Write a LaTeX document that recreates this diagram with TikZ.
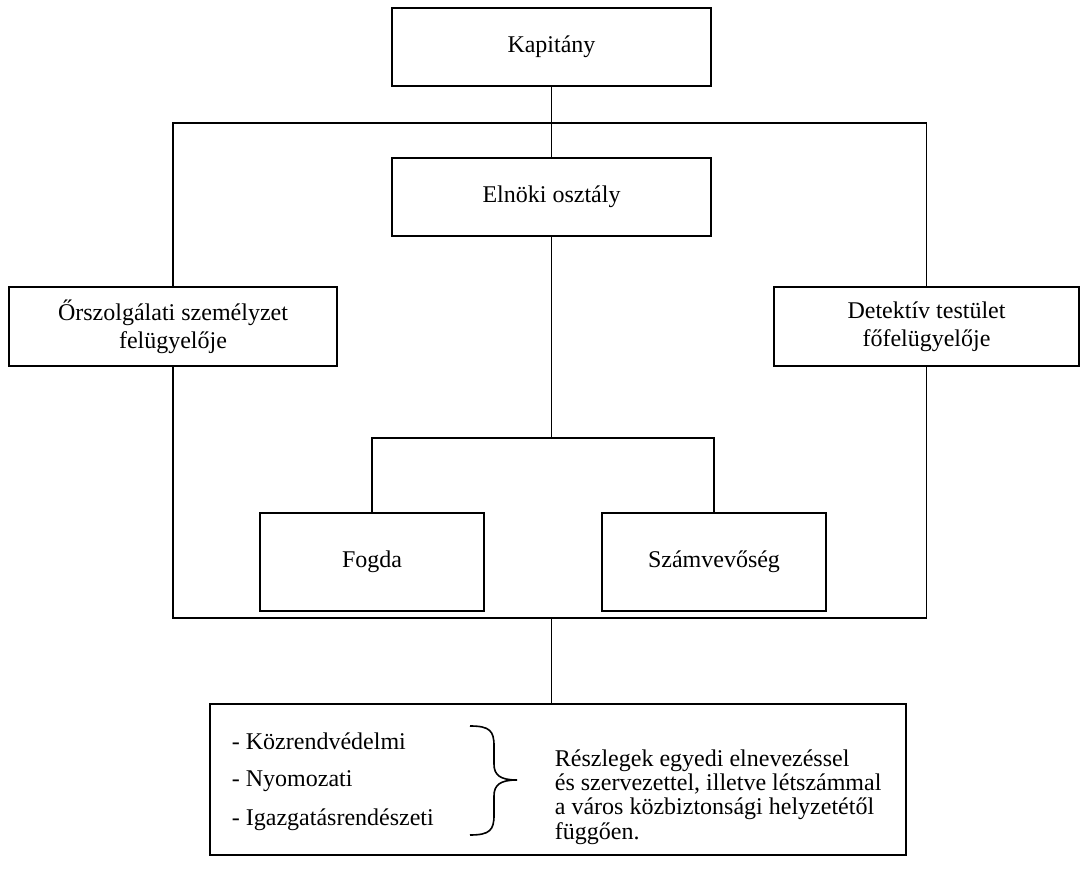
\documentclass[tikz,border=0pt]{standalone}
\usepackage{fontspec}
\setmainfont{Liberation Serif}
\begin{document}
\begin{tikzpicture}[x=0.5pt,y=-0.5pt,line width=0.9pt,
	font=\fontsize{12}{14}\selectfont,
	box/.style={draw,align=center,inner sep=0pt},
	midbox/.style={box,minimum width=159.5pt,minimum height=39pt},
	sidebox/.style={box,minimum height=39.5pt},
	lowbox/.style={box,minimum width=112pt,minimum height=49pt},
	listitem/.style={anchor=west,inner sep=0pt}]
	\useasboundingbox (0,0) rectangle (1089,882);
	% boxes
	\node[midbox] (kap) at (551.5,47) {Kapitány};
	\node[midbox] (eln) at (551.5,197) {Elnöki osztály};
	\node[sidebox,minimum width=164pt] (orsz) at (173,326.5) {Őrszolgálati személyzet\\felügyelője};
	\node[sidebox,minimum width=152.5pt] (det) at (926.5,326.5) {Detektív testület\\főfelügyelője};
	\node[lowbox] (fog) at (372,562) {Fogda};
	\node[lowbox] (szam) at (714,562) {Számvevőség};
	\node[box,minimum width=348pt,minimum height=75.5pt] (reszl) at (558,779.5) {};
	\coordinate (ftop) at (551.5,123);
	\coordinate (fbot) at (551.5,618);
	\coordinate (br) at (551.5,438);
	% lines
	\draw (kap) -- (eln);
	\draw (orsz.north) |- (ftop) -| (det.north);
	\draw (orsz.south) |- (fbot) -| (det.south);
	\draw (fbot) -- (reszl.north -| fbot);
	\draw (eln) -- (br);
	\draw (fog.north) |- (br) -| (szam.north);
	% inside the bottom box
	\node[listitem] (kozr) at (231,741) {- Közrendvédelmi};
	\node[listitem] (nyom) at (231,781) {- Nyomozati};
	\node[listitem] (igaz) at (231,820) {- Igazgatásrendészeti};
	\draw[line width=0.8pt] (470,726) .. controls (490,726) and (494,731) .. (494,746) -- (494,764)
		.. controls (494,775) and (500,780) .. (517,780)
		.. controls (500,780) and (494,785) .. (494,796) -- (494,815)
		.. controls (494,830) and (490,835) .. (470,835);
	\node[listitem,align=left,font=\fontsize{12}{12.2}\selectfont] (leir) at (554,797) {Részlegek egyedi elnevezéssel\\és szervezettel, illetve létszámmal\\a város közbiztonsági helyzetétől\\függően.};
\end{tikzpicture}
\end{document}
